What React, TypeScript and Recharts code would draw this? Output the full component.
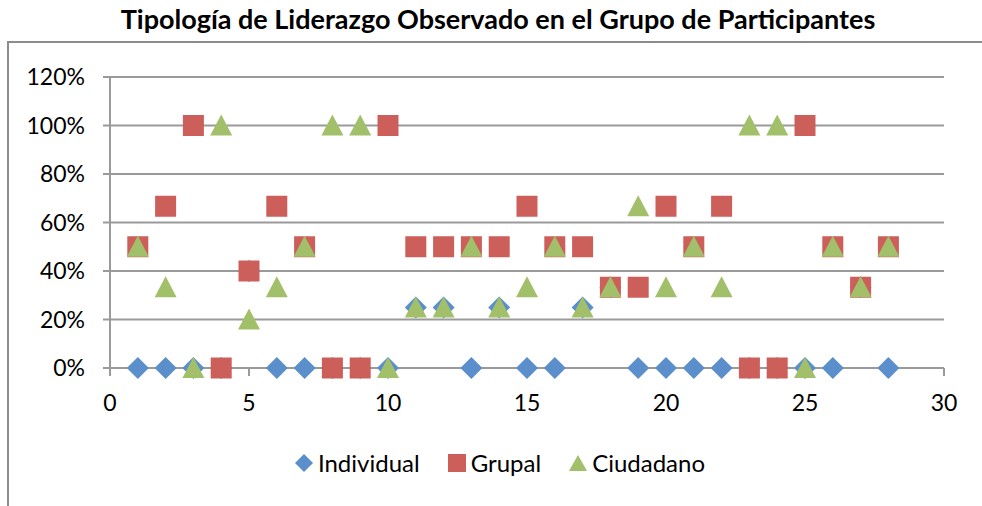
import React from "react";
import { ScatterChart, Scatter, XAxis, YAxis, CartesianGrid, Legend } from "recharts";

const participantes = [1, 2, 3, 4, 5, 6, 7, 8, 9, 10, 11, 12, 13, 14, 15, 16, 17, 18, 19, 20, 21, 22, 23, 24, 25, 26, 27, 28];
const individual = [0, 0, 0, 0, 0.4, 0, 0, 0, 0, 0, 0.25, 0.25, 0, 0.25, 0, 0, 0.25, 0.333, 0, 0, 0, 0, 0, 0, 0, 0, 0.333, 0];
const grupal = [0.5, 0.667, 1, 0, 0.4, 0.667, 0.5, 0, 0, 1, 0.5, 0.5, 0.5, 0.5, 0.667, 0.5, 0.5, 0.333, 0.333, 0.667, 0.5, 0.667, 0, 0, 1, 0.5, 0.333, 0.5];
const ciudadano = [0.5, 0.333, 0, 1, 0.2, 0.333, 0.5, 1, 1, 0, 0.25, 0.25, 0.5, 0.25, 0.333, 0.5, 0.25, 0.333, 0.667, 0.333, 0.5, 0.333, 1, 1, 0, 0.5, 0.333, 0.5];
const xTicks = [0, 5, 10, 15, 20, 25, 30];
const yTicks = [0, 0.2, 0.4, 0.6, 0.8, 1, 1.2];

const BLUE = "#5b8fcc";
const RED = "#cd5f5a";
const GREEN = "#a2c06a";
const FONT = "Lato, 'Open Sans', sans-serif";

const toPoints = (vals: number[]) => participantes.map((x, i) => ({ x, y: vals[i] }));

const Diamond = (p: any) => {
  const { cx, cy } = p;
  const r = 11;
  return <path d={`M${cx},${cy - r}L${cx + r},${cy}L${cx},${cy + r}L${cx - r},${cy}Z`} fill={BLUE} />;
};
const Square = (p: any) => {
  const { cx, cy } = p;
  return <rect x={cx - 10.5} y={cy - 10.5} width={21} height={21} fill={RED} />;
};
const Triangle = (p: any) => {
  const { cx, cy } = p;
  return <path d={`M${cx},${cy - 11}L${cx + 11},${cy + 10}L${cx - 11},${cy + 10}Z`} fill={GREEN} />;
};

const legendItems = [
  { name: "Individual", color: BLUE, kind: "diamond" },
  { name: "Grupal", color: RED, kind: "square" },
  { name: "Ciudadano", color: GREEN, kind: "triangle" },
];

const LegendBox = () => (
  <div style={{ display: "flex", justifyContent: "center", gap: 28, fontFamily: FONT, fontSize: 24, color: "#000" }}>
    {legendItems.map((it) => (
      <div key={it.name} style={{ display: "flex", alignItems: "center", gap: 5 }}>
        <svg width={18} height={18}>
          {it.kind === "diamond" && <path d="M9,0L18,9L9,18L0,9Z" fill={it.color} />}
          {it.kind === "square" && <rect x={0} y={0} width={18} height={18} fill={it.color} />}
          {it.kind === "triangle" && <path d="M9,1L18,17L0,17Z" fill={it.color} />}
        </svg>
        <span>{it.name}</span>
      </div>
    ))}
  </div>
);

export default function App() {
  return (
    <div style={{ position: "relative", width: 982, height: 506, background: "#fff", overflow: "hidden" }}>
      <style>{`body{margin:0}`}</style>
      <div
        style={{
          position: "absolute",
          left: 7,
          top: 41,
          width: 990,
          height: 480,
          borderLeft: "2px solid #8c8c8c",
          borderTop: "2px solid #8c8c8c",
        }}
      />
      <div
        style={{
          position: "absolute",
          top: 2,
          left: 0,
          width: 996,
          textAlign: "center",
          fontFamily: FONT,
          fontWeight: 700,
          fontSize: 27,
          color: "#000",
        }}
      >
        Tipología de Liderazgo Observado en el Grupo de Participantes
      </div>
      <ScatterChart width={982} height={506} margin={{ top: 77, right: 38, bottom: 78, left: 10 }}>
        <CartesianGrid vertical={false} stroke="#9a9a9a" strokeWidth={2} />
        <XAxis
          type="number"
          dataKey="x"
          domain={[0, 30]}
          ticks={xTicks}
          height={60}
          tickSize={8}
          tickMargin={19}
          stroke="#9a9a9a"
          strokeWidth={2}
          tick={{ fill: "#000", fontSize: 23, fontFamily: FONT }}
        />
        <YAxis
          type="number"
          dataKey="y"
          domain={[0, 1.2]}
          ticks={yTicks}
          width={100}
          tickSize={7}
          tickMargin={18}
          stroke="#9a9a9a"
          strokeWidth={2}
          tickFormatter={(v: number) => `${Math.round(v * 100)}%`}
          tick={{ fill: "#000", fontSize: 23, fontFamily: FONT }}
        />
        <Legend verticalAlign="middle" align="center" content={<LegendBox />} wrapperStyle={{ top: 448, left: 0, width: 1000 }} />
        <Scatter name="Individual" data={toPoints(individual)} shape={Diamond} isAnimationActive={false} />
        <Scatter name="Grupal" data={toPoints(grupal)} shape={Square} isAnimationActive={false} />
        <Scatter name="Ciudadano" data={toPoints(ciudadano)} shape={Triangle} isAnimationActive={false} />
      </ScatterChart>
    </div>
  );
}
